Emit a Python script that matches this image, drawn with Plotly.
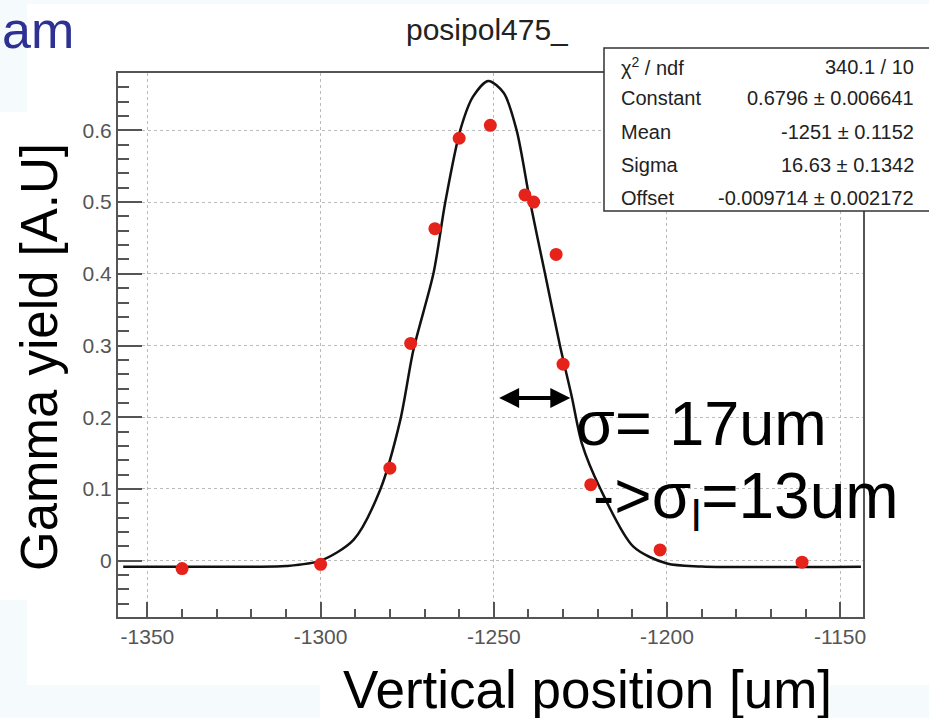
import plotly.graph_objects as go

# ---- data ----
pos_um = [-1340, -1300, -1280, -1274, -1267, -1260, -1251, -1241, -1238.5, -1232, -1230, -1222, -1202, -1161]
gamma_yield = [-0.011, -0.005, 0.129, 0.303, 0.463, 0.589, 0.607, 0.510, 0.500, 0.427, 0.274, 0.106, 0.015, -0.002]

fit_x = [-1357, -1320, -1310, -1300, -1290.5, -1282.8, -1277, -1273.2, -1267.4, -1264, -1259.7,
         -1256, -1251.6, -1247.1, -1243.4, -1239.5, -1235.2, -1230.9, -1227.5, -1224.6, -1219.3,
         -1209.7, -1200, -1190, -1144]
fit_y = [-0.0084, -0.0084, -0.0075, 0.000, 0.029, 0.099, 0.196, 0.294, 0.401, 0.500, 0.600,
         0.647, 0.669, 0.652, 0.600, 0.500, 0.400, 0.300, 0.229, 0.164, 0.101,
         0.0195, -0.004, -0.008, -0.0084]

x_ticks = [-1350, -1300, -1250, -1200, -1150]
y_ticks = [0, 0.1, 0.2, 0.3, 0.4, 0.5, 0.6]

stats_names = ["χ<sup>2</sup> / ndf", "Constant", "Mean", "Sigma", "Offset"]
stats_values = ["340.1 / 10", "0.6796 ± 0.006641", "-1251 ± 0.1152", "16.63 ± 0.1342", "-0.009714 ± 0.002172"]

title_text = "posipol475_"
x_title = "Vertical position [um]"
y_title = "Gamma yield [A.U]"
sigma_text = "σ= 17um"
sigma_l_text = "->σ<sub>l</sub>=13um"
slide_fragment = "am"

# ---- layout geometry (pixels) ----
W, H = 929, 718
L, R, T, B = 118, 863, 73, 617


def px(xp):
    return (xp - L) / (R - L)


def py(yp):
    return (B - yp) / (B - T)


FONT = "Liberation Sans, Arial, sans-serif"

fig = go.Figure()

fig.add_trace(go.Scatter(
    x=fit_x, y=fit_y, mode="lines",
    line=dict(color="#111111", width=2.5, shape="spline", smoothing=0.8),
    hoverinfo="skip", showlegend=False))

fig.add_trace(go.Scatter(
    x=pos_um, y=gamma_yield, mode="markers",
    marker=dict(color="#e5231b", size=13, line=dict(width=0)),
    showlegend=False))

axis_common = dict(
    showline=True, linecolor="#555555", linewidth=2, mirror=True,
    showgrid=True, gridcolor="#bbbbbb", gridwidth=1, griddash="dot",
    zeroline=False, ticks="inside", tickcolor="#555555", tickwidth=2,
    tickfont=dict(family=FONT, size=21, color="#555555"),
)

fig.update_xaxes(
    range=[-1358.5, -1143.4], tickvals=x_ticks, ticktext=[str(v) for v in x_ticks],
    ticklen=15,
    minor=dict(dtick=10, tick0=-1350, ticks="inside", ticklen=8, tickcolor="#555555", tickwidth=1.5, showgrid=False),
    **axis_common)
fig.update_yaxes(
    range=[-0.0785, 0.680], tickvals=y_ticks, ticktext=["0", "0.1", "0.2", "0.3", "0.4", "0.5", "0.6"],
    ticklen=24,
    minor=dict(dtick=0.02, tick0=0, ticks="inside", ticklen=11, tickcolor="#555555", tickwidth=1.5, showgrid=False),
    **axis_common)

shapes = []
tint = "#f5fafd"
for (x0, y0, x1, y1) in [(0, 0, 27, 112), (0, 600, 27, 718), (0, 685, 320, 718), (830, 685, 929, 718), (0, 0, 929, 4)]:
    shapes.append(dict(type="rect", xref="paper", yref="paper", x0=px(x0), x1=px(x1), y0=py(y1), y1=py(y0),
                       fillcolor=tint, line=dict(width=0), layer="below"))
# stats box
shapes.append(dict(type="rect", xref="paper", yref="paper", x0=px(604), x1=px(940), y0=py(211), y1=py(48),
                   fillcolor="white", line=dict(color="#333333", width=1.5), layer="above"))

annotations = []
annotations.append(dict(text=slide_fragment, xref="paper", yref="paper", x=px(0), y=py(30),
                        xanchor="left", yanchor="middle", showarrow=False,
                        font=dict(family=FONT, size=52, color="#2e3192")))
annotations.append(dict(text=title_text, xref="paper", yref="paper", x=px(487), y=py(30),
                        xanchor="center", yanchor="middle", showarrow=False,
                        font=dict(family=FONT, size=30, color="#222222")))
annotations.append(dict(text=y_title, xref="paper", yref="paper", x=px(40), y=py(357), textangle=-90,
                        xanchor="center", yanchor="middle", showarrow=False,
                        font=dict(family=FONT, size=51, color="#000000")))
annotations.append(dict(text=x_title, xref="paper", yref="paper", x=px(587), y=py(689),
                        xanchor="center", yanchor="middle", showarrow=False,
                        font=dict(family=FONT, size=53, color="#000000")))
annotations.append(dict(text=sigma_text, xref="paper", yref="paper", x=px(574), y=py(423),
                        xanchor="left", yanchor="middle", showarrow=False,
                        font=dict(family=FONT, size=63, color="#000000")))
annotations.append(dict(text=sigma_l_text, xref="paper", yref="paper", x=px(591), y=py(500),
                        xanchor="left", yanchor="middle", showarrow=False,
                        font=dict(family=FONT, size=64, color="#000000")))
# double arrow
annotations.append(dict(text="", x=-1227.9, y=0.227, ax=-1248.9, ay=0.227, xref="x", yref="y",
                        axref="x", ayref="y", showarrow=True, arrowside="end+start",
                        arrowhead=2, arrowsize=1, arrowwidth=4, arrowcolor="#000000"))

row_y = [66.7, 98.3, 131.7, 165, 198.3]
for name, val, yy in zip(stats_names, stats_values, row_y):
    annotations.append(dict(text=name, xref="paper", yref="paper", x=px(619), y=py(yy),
                            xanchor="left", yanchor="middle", showarrow=False,
                            font=dict(family=FONT, size=20, color="#222222")))
    annotations.append(dict(text=val, xref="paper", yref="paper", x=px(916), y=py(yy),
                            xanchor="right", yanchor="middle", showarrow=False,
                            font=dict(family=FONT, size=20, color="#222222")))

fig.update_layout(
    width=W, height=H,
    margin=dict(l=L, r=W - R, t=T, b=H - B, pad=0),
    paper_bgcolor="white", plot_bgcolor="white",
    shapes=shapes, annotations=annotations,
    showlegend=False,
)

fig.write_html("out.html", config={"displayModeBar": False},
               post_script="document.body.style.margin='0';document.body.style.padding='0';")
